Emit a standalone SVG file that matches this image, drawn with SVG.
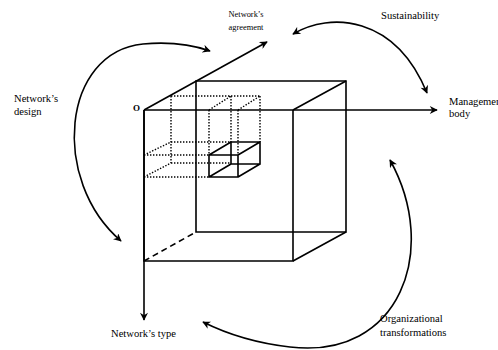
<svg xmlns="http://www.w3.org/2000/svg" width="498" height="350" viewBox="0 0 498 350">
<style>
.ln{fill:none;stroke:#000;stroke-width:1.6;stroke-linecap:butt}
.dot{fill:none;stroke:#000;stroke-width:1.4;stroke-dasharray:1.4 1.6}
.dash{fill:none;stroke:#000;stroke-width:1.6;stroke-dasharray:6 4}
.arc{fill:none;stroke:#000;stroke-width:1.6}
.t{font-family:"Liberation Serif","Times New Roman",serif;font-size:10.6px;fill:#000}
.ts{font-family:"Liberation Serif","Times New Roman",serif;font-size:8.4px;fill:#000}
</style>
<defs>
<marker id="ah" viewBox="0 0 10 10" refX="9" refY="5" markerWidth="9" markerHeight="8" markerUnits="userSpaceOnUse" orient="auto-start-reverse">
<path d="M0,0 L10,5 L0,10 L3,5 z" fill="#000"/>
</marker>
</defs>
<rect width="498" height="350" fill="#fff"/>

<g id="cube">
<path class="ln" d="M196,81 H346 V232 H196 Z"/>
<path class="ln" d="M144,110 V261 H293 V110"/>
<path class="ln" d="M293,110 L346,81 M293,261 L346,232"/>
<path class="dash" d="M144,261 L196,232"/>
</g>

<g id="projections">
<path class="dot" d="M171,96 H260 M209,110 L231,96 M238,110 L260,96"/>
<path class="dot" d="M171,96 V163 M209,110 V155 M231,96 V142 M238,110 V155 M260,96 V142"/>
<path class="dot" d="M171,142 H231 M144,155 H209 M171,163 H231 M144,177 H209 M144,155 L171,142 M144,177 L171,163"/>
</g>

<g id="small-box">
<path class="ln" d="M209,155 H238 V177 H209 Z M231,142 H260 V164 H231 Z M209,155 L231,142 M238,155 L260,142 M238,177 L260,164 M209,177 L231,164"/>
</g>

<g id="axes">
<path class="ln" d="M144,110 H437" marker-end="url(#ah)"/>
<path class="ln" d="M144,110 V320" marker-end="url(#ah)"/>
<path class="ln" d="M144,110 L267,42" marker-end="url(#ah)"/>
</g>

<g id="connectors">
<path class="arc" d="M121,241 C50,180 62,52 143,44 C165,42 190,44 210,51" marker-start="url(#ah)" marker-end="url(#ah)"/>
<path class="arc" d="M293,34 C330,12 395,15 427,93" marker-start="url(#ah)" marker-end="url(#ah)"/>
<path class="arc" d="M390,160 C440,250 400,360 290,347 C255,343 225,333 203,322" marker-start="url(#ah)" marker-end="url(#ah)"/>
</g>

<g id="label-origin"><text x="133" y="111" style="font-family:'Liberation Serif',serif;font-size:9px;font-weight:bold">O</text></g>
<g id="label-agreement"><text class="ts" x="246" y="16.5" text-anchor="middle">Network’s</text><text class="ts" x="246" y="30" text-anchor="middle">agreement</text></g>
<g id="label-sustainability"><text class="t" x="381" y="18.5">Sustainability</text></g>
<g id="label-management"><text class="t" x="449" y="104.5">Management</text><text class="t" x="449" y="117">body</text></g>
<g id="label-design"><text class="t" x="14" y="102">Network’s</text><text class="t" x="14" y="115">design</text></g>
<g id="label-type"><text class="t" x="111" y="337">Network’s type</text></g>
<g id="label-org"><text class="t" x="380" y="322">Organizational</text><text class="t" x="380" y="335.5">transformations</text></g>
</svg>
